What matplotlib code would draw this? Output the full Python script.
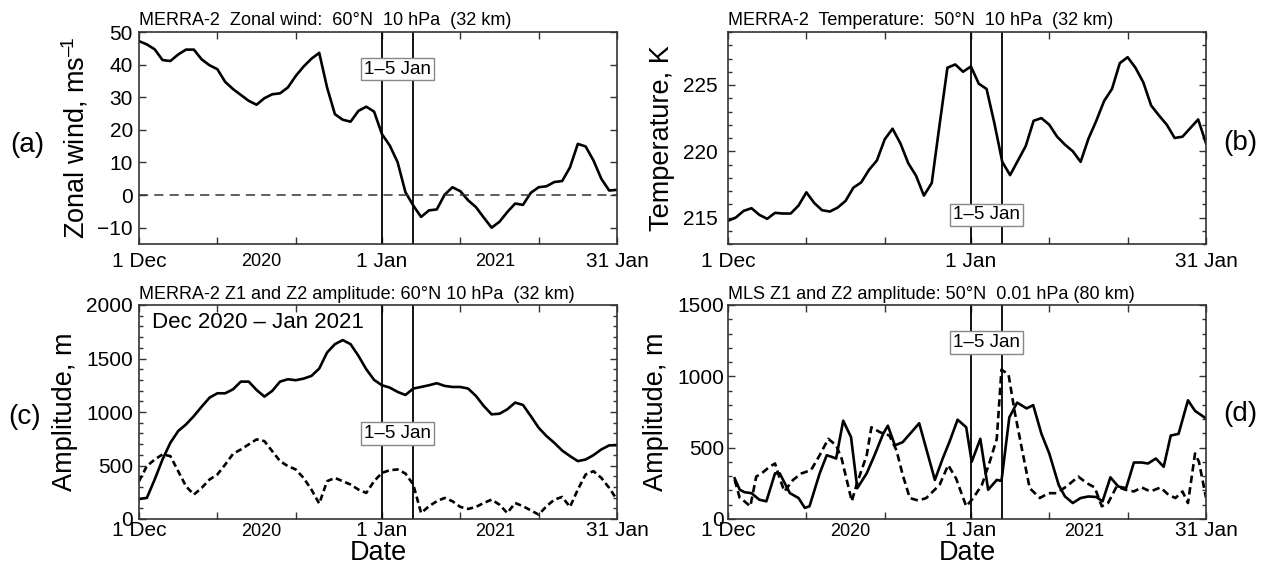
import numpy as np
import matplotlib
matplotlib.use("Agg")
import matplotlib.pyplot as plt
from matplotlib.ticker import MultipleLocator
import matplotlib.transforms as mtransforms

plt.rcParams['font.family'] = ['Liberation Sans', 'DejaVu Sans']
plt.rcParams['mathtext.fontset'] = 'custom'
plt.rcParams['mathtext.rm'] = 'Liberation Sans'
plt.rcParams['mathtext.it'] = 'Liberation Sans:italic'
plt.rcParams['mathtext.default'] = 'regular'

# days since 1 Dec 2020 (0 = 1 Dec, 31 = 1 Jan, 61 = 31 Jan)
days = np.arange(62)

# (a) MERRA-2 zonal wind 60N 10 hPa, m/s
wind = [47.2, 46.2, 44.7, 41.4, 41.1, 43.1, 44.6, 44.6, 41.6, 39.8,
        38.6, 34.7, 32.5, 30.7, 28.9, 27.7, 29.7, 30.9, 31.2, 33.0,
        36.5, 39.4, 41.8, 43.6, 33.0, 24.8, 23.1, 22.5, 25.8, 27.1,
        25.6, 18.7, 15.2, 10.1, 0.9, -3.2, -6.7, -4.7, -4.4, 0.1,
        2.4, 1.2, -1.6, -3.7, -6.9, -10.0, -8.2, -5.2, -2.6, -3.0,
        0.7, 2.4, 2.7, 4.0, 4.3, 8.5, 15.7, 14.9, 10.6, 5.0,
        1.4, 1.6]

# (b) MERRA-2 temperature 50N 10 hPa, K
temp = [214.75, 215.0, 215.5, 215.7, 215.2, 214.9, 215.35, 215.3, 215.3, 215.9,
        216.9, 216.1, 215.55, 215.45, 215.75, 216.25, 217.25, 217.65, 218.6, 219.3,
        220.9, 221.7, 220.6, 219.1, 218.15, 216.65, 217.6, 222.0, 226.3, 226.55,
        226.0, 226.4, 225.1, 224.7, 222.1, 219.2, 218.2, 219.3, 220.4, 222.3,
        222.5, 222.0, 221.1, 220.5, 220.0, 219.2, 220.95, 222.3, 223.8, 224.7,
        226.65, 227.1, 226.3, 225.2, 223.45, 222.7, 222.0, 221.0, 221.1, 221.75,
        222.4, 220.6]

# (c) MERRA-2 Z1 (solid) and Z2 (dashed) amplitude 60N 10 hPa, m
z1_merra = [187, 197, 369, 556, 712, 822, 884, 962, 1050, 1134,
            1175, 1175, 1212, 1284, 1284, 1206, 1144, 1197, 1284, 1306,
            1297, 1312, 1337, 1406, 1556, 1634, 1672, 1634, 1525, 1400,
            1300, 1250, 1228, 1188, 1159, 1219, 1234, 1250, 1269, 1244,
            1234, 1234, 1219, 1150, 1056, 978, 984, 1025, 1088, 1066,
            962, 853, 775, 712, 640, 588, 541, 556, 597, 650,
            688, 690]
z2_merra = [353, 494, 556, 603, 588, 447, 306, 228, 291, 369,
            416, 509, 609, 650, 697, 744, 728, 634, 541, 494,
            463, 384, 275, 144, 353, 384, 353, 322, 275, 244,
            353, 431, 456, 463, 425, 322, 56, 119, 166, 197,
            166, 113, 94, 113, 150, 181, 134, 56, 150, 119,
            81, 41, 119, 181, 206, 113, 275, 416, 447, 384,
            291, 181]

# (d) MLS Z1 (solid) and Z2 (dashed) amplitude 50N 0.01 hPa, m
z1_mls_day = [0.85, 1.5, 2.1, 3.0, 4.0, 4.9, 6.0, 6.6, 7.9, 9.0,
              9.8, 10.4, 11.7, 12.6, 13.2, 13.8, 14.7, 15.7, 16.5, 17.7,
              18.7, 19.8, 20.4, 21.3, 22.3, 24.4, 26.4, 27.4, 28.3, 29.3,
              30.4, 31.1, 32.2, 33.2, 34.3, 34.9, 35.9, 36.9, 38.1, 38.95,
              40.0, 41.0, 42.2, 43.0, 44.0, 45.0, 46.0, 47.0, 47.8, 48.8,
              49.8, 50.8, 51.8, 52.8, 53.6, 54.6, 55.6, 56.5, 57.5, 58.7,
              59.6, 61.0]
z1_mls = [285, 205, 188, 181, 135, 124, 320, 320, 181, 147,
          78, 89, 320, 447, 436, 424, 689, 574, 216, 320,
          447, 597, 654, 516, 539, 671, 274, 424, 546, 696,
          643, 401, 562, 205, 274, 267, 712, 816, 775, 798,
          597, 459, 239, 158, 112, 147, 158, 154, 124, 292,
          228, 216, 396, 396, 389, 424, 366, 585, 597, 832,
          758, 705]
z2_mls_day = [0.85, 1.5, 2.1, 2.85, 3.6, 4.3, 5.3, 6.0, 6.6, 7.2,
              8.3, 9.4, 10.6, 11.7, 12.8, 13.8, 14.5, 15.8, 16.4, 17.7,
              18.3, 19.4, 20.6, 21.5, 22.3, 23.2, 24.3, 25.3, 27.0, 28.1,
              29.1, 30.4, 31.3, 32.4, 33.4, 34.3, 34.9, 35.8, 36.6, 37.5,
              38.5, 39.8, 40.9, 41.9, 43.2, 44.7, 45.8, 46.8, 47.7, 48.5,
              49.6, 50.7, 51.8, 52.8, 53.9, 55.2, 56.2, 57.1, 58.0, 58.7,
              59.6, 60.1, 61.0]
z2_mls = [274, 147, 124, 89, 297, 320, 366, 389, 285, 193,
          274, 320, 343, 447, 562, 516, 424, 124, 239, 447,
          643, 608, 585, 482, 308, 147, 129, 147, 239, 378,
          285, 89, 147, 239, 401, 562, 1047, 1013, 747, 493,
          216, 147, 181, 181, 228, 297, 251, 221, 89, 112,
          228, 205, 193, 221, 193, 221, 170, 147, 193, 112,
          459, 401, 150]

tick_days = [0, 10, 20, 31, 41, 51, 61]
tick_names = ['1 Dec', '', '', '1 Jan', '', '', '31 Jan']
year_days = [15.6, 45.4]
year_names = ['2020', '2021']
event_days = [31, 35]

W, H = 1270, 573
fig = plt.figure(figsize=(W / 100, H / 100), dpi=100)


def box(l, t, r, b):
    return [l / W, 1 - b / H, (r - l) / W, (b - t) / H]


ax_a = fig.add_axes(box(139, 32, 617, 244))
ax_b = fig.add_axes(box(728, 32, 1206, 244))
ax_c = fig.add_axes(box(139, 305, 617, 519))
ax_d = fig.add_axes(box(728, 305, 1206, 519))

lw = 1.9


def common(ax, xpad, ypad, years=True):
    ax.set_xlim(0, 61)
    ax.set_xticks(tick_days)
    ax.set_xticklabels(tick_names)
    ax.tick_params(which='both', direction='in', top=True, right=True,
                   labelsize=15, width=1.0, color='#333333')
    ax.tick_params(which='major', length=5)
    ax.tick_params(which='minor', length=3)
    ax.tick_params(axis='x', pad=xpad)
    ax.tick_params(axis='y', pad=ypad)
    for s in ax.spines.values():
        s.set_linewidth(1.2)
        s.set_color('#333333')
    for d in event_days:
        ax.axvline(d, color='black', lw=1.3)
    if years:
        tr = mtransforms.blended_transform_factory(ax.transData, ax.transAxes)
        for d, name in zip(year_days, year_names):
            ax.text(d, -xpad * 1.39 / 212 - 0.008, name, transform=tr,
                    ha='center', va='top', fontsize=13)


def event_label(ax, y):
    ax.text(33, y, '1\u20135 Jan', ha='center', va='center', fontsize=13.5,
            bbox=dict(boxstyle='square,pad=0.15', fc='white', ec='#888888', lw=1))


# (a)
ax_a.plot(days, wind, color='black', lw=lw)
ax_a.axhline(0, color='#333333', lw=1.1, ls=(0, (6, 4)))
ax_a.set_ylim(-15, 50)
ax_a.set_yticks([-10, 0, 10, 20, 30, 40, 50])
common(ax_a, 5.5, 4.3)
event_label(ax_a, 38.6)
ax_a.set_ylabel('Zonal wind, ms$^{\u2013\\!1}$', fontsize=19.5)
ax_a.yaxis.set_label_coords(-0.1025, 0.5)
ax_a.text(0, 1.012, 'MERRA-2  Zonal wind:  60\u00b0N  10 hPa  (32 km)',
          transform=ax_a.transAxes, ha='left', va='bottom', fontsize=13)

# (b)
ax_b.plot(days, temp, color='black', lw=lw)
ax_b.set_ylim(213, 229)
ax_b.set_yticks([215, 220, 225])
ax_b.yaxis.set_minor_locator(MultipleLocator(1))
common(ax_b, 5.5, 7.5, years=False)
event_label(ax_b, 215.2)
ax_b.set_ylabel('Temperature, K', fontsize=19.5)
ax_b.yaxis.set_label_coords(-0.111, 0.5)
ax_b.text(0, 1.012, 'MERRA-2  Temperature:  50\u00b0N  10 hPa  (32 km)',
          transform=ax_b.transAxes, ha='left', va='bottom', fontsize=13)

# (c)
ax_c.plot(days, z1_merra, color='black', lw=lw)
ax_c.plot(days, z2_merra, color='black', lw=lw, ls=(0, (2.4, 1.4)))
ax_c.set_ylim(0, 2000)
ax_c.set_yticks([0, 500, 1000, 1500, 2000])
ax_c.yaxis.set_minor_locator(MultipleLocator(100))
common(ax_c, 1.5, 4.3)
event_label(ax_c, 797)
ax_c.set_ylabel('Amplitude, m', fontsize=19.5)
ax_c.yaxis.set_label_coords(-0.1276, 0.5)
ax_c.set_xlabel('Date', fontsize=19.5, labelpad=0)
ax_c.text(0.027, 0.965, 'Dec 2020 \u2013 Jan 2021', transform=ax_c.transAxes,
          ha='left', va='top', fontsize=16)
ax_c.text(0, 1.008, 'MERRA-2 Z1 and Z2 amplitude: 60\u00b0N 10 hPa  (32 km)',
          transform=ax_c.transAxes, ha='left', va='bottom', fontsize=13)

# (d)
ax_d.plot(z1_mls_day, z1_mls, color='black', lw=lw)
ax_d.plot(z2_mls_day, z2_mls, color='black', lw=lw, ls=(0, (2.8, 1.6)))
ax_d.set_ylim(0, 1500)
ax_d.set_yticks([0, 500, 1000, 1500])
ax_d.yaxis.set_minor_locator(MultipleLocator(100))
common(ax_d, 1.5, 3.0)
event_label(ax_d, 1239)
ax_d.set_ylabel('Amplitude, m', fontsize=19.5)
ax_d.yaxis.set_label_coords(-0.1234, 0.5)
ax_d.set_xlabel('Date', fontsize=19.5, labelpad=0)
ax_d.text(0, 1.008, 'MLS Z1 and Z2 amplitude: 50\u00b0N  0.01 hPa (80 km)',
          transform=ax_d.transAxes, ha='left', va='bottom', fontsize=13)

# panel letters
for lbl, x, y in [('(a)', 27, 145), ('(b)', 1240, 143), ('(c)', 25, 417), ('(d)', 1240, 414)]:
    fig.text(x / W, 1 - y / H, lbl, ha='center', va='center', fontsize=20)

fig.savefig('out.png', dpi=100, facecolor='white')
